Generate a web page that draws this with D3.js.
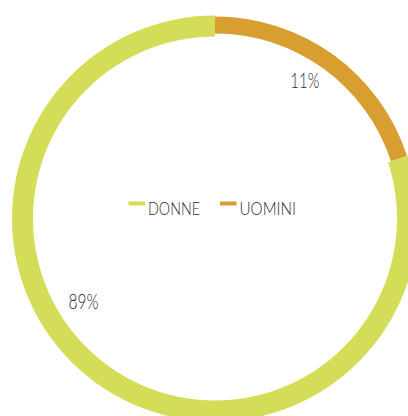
<!DOCTYPE html>
<html>
<head>
<meta charset="utf-8">
<script src="https://cdn.jsdelivr.net/npm/d3@7"></script>
<style>
  body { margin: 0; background: #fff; }
  svg { display: block; }
  text { font-family: Lato, "Open Sans", "Noto Sans", sans-serif; font-weight: 300; fill: #2b2b2b; }
</style>
</head>
<body>
<div id="chart"></div>
<script>
// data
var categories = ["DONNE", "UOMINI"];
var percents = [89, 11];          // printed labels
var arcShares = [80, 20];         // share of the ring as drawn
var colors = ["#d4dd57", "#d89f30"];

var width = 408, height = 416;
var cx = 215, cy = 218.5;

var svg = d3.select("#chart").append("svg")
    .attr("width", width)
    .attr("height", height);

var g = svg.append("g").attr("transform", "translate(" + cx + "," + cy + ")");

var rows = categories.map(function (c, i) {
    return { name: c, pct: percents[i], share: arcShares[i], color: colors[i] };
});

// UOMINI starts at 12 o'clock, DONNE follows clockwise
var pie = d3.pie().sort(null).value(function (d) { return d.share; });
var arcsData = pie(rows.slice().reverse());

var ringSize = {
    DONNE: { inner: 182, outer: 203 },
    UOMINI: { inner: 185, outer: 202 }
};

g.selectAll("path.slice")
    .data(arcsData)
    .enter().append("path")
    .attr("class", "slice")
    .attr("fill", function (d) { return d.data.color; })
    .attr("d", function (d) {
        var r = ringSize[d.data.name];
        return d3.arc().innerRadius(r.inner).outerRadius(r.outer)(d);
    });

// percentage labels (polar spots, degrees from 12 o'clock)
var labelSpot = {
    DONNE: { angle: 238, r: 155 },
    UOMINI: { angle: 33, r: 165 }
};

// condensed look: squeeze text to the width of the original
g.selectAll("text.pct")
    .data(arcsData)
    .enter().append("text")
    .attr("class", "pct")
    .attr("text-anchor", "middle")
    .style("font-size", "22px")
    .attr("x", function (d) {
        var s = labelSpot[d.data.name];
        return s.r * Math.sin(s.angle * Math.PI / 180);
    })
    .attr("y", function (d) {
        var s = labelSpot[d.data.name];
        return -s.r * Math.cos(s.angle * Math.PI / 180) + 8;
    })
    .attr("textLength", function (d) { return d.data.pct == 11 ? 29 : 30; })
    .attr("lengthAdjust", "spacingAndGlyphs")
    .text(function (d) { return d.data.pct + "%"; });

// legend
var legendWidths = { DONNE: 52, UOMINI: 56.5 };
var legend = svg.append("g").attr("transform", "translate(128.5,208)");
var x = 0;
rows.forEach(function (d) {
    var item = legend.append("g").attr("transform", "translate(" + x + ",0)");
    item.append("rect")
        .attr("x", 0).attr("y", -6.5)
        .attr("width", 16.5).attr("height", 4)
        .attr("fill", d.color);
    item.append("text")
        .attr("x", 19.5)
        .attr("y", 7)
        .style("font-size", "18.5px")
        .attr("textLength", legendWidths[d.name])
        .attr("lengthAdjust", "spacingAndGlyphs")
        .text(d.name);
    x += 19.5 + legendWidths[d.name] + 20;
});
</script>
</body>
</html>
